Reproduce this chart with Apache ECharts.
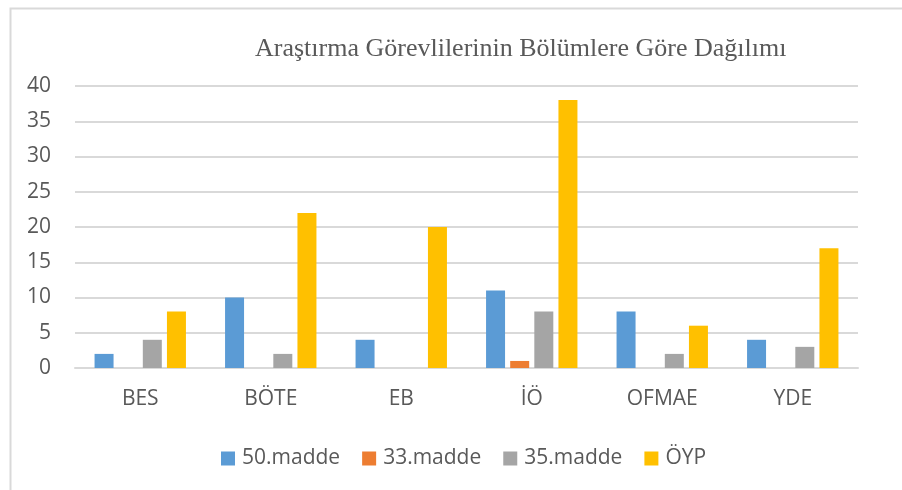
<!DOCTYPE html>
<html>
<head>
<meta charset="utf-8">
<script src="https://cdn.jsdelivr.net/npm/echarts@6/dist/echarts.min.js"></script>
<style>
  html, body { margin: 0; padding: 0; background: #fff; }
  #chart { width: 902px; height: 490px; }
</style>
</head>
<body>
<div id="chart"></div>
<script>
const categories = ['BES', 'BÖTE', 'EB', 'İÖ', 'OFMAE', 'YDE']
const madde50 = [2, 10, 4, 11, 8, 4]
const madde33 = [0, 0, 0, 1, 0, 0]
const madde35 = [4, 2, 0, 8, 2, 3]
const oyp = [8, 22, 20, 38, 6, 17]

const seriesNames = ['50.madde', '33.madde', '35.madde', 'ÖYP']
const colors = ['#5B9BD5', '#ED7D31', '#A5A5A5', '#FFC000']
const textColor = '#595959'
const font = '"Open Sans", "Noto Sans", sans-serif'

const barSeries = (name, data) => ({
  name,
  type: 'bar',
  data,
  barWidth: 19,
  barGap: '27%'
})

const myChart = echarts.init(document.getElementById('chart'))
myChart.setOption({
  animation: false,
  color: colors,
  title: {
    text: 'Araştırma Görevlilerinin Bölümlere Göre Dağılımı',
    left: 250,
    top: 31,
    textStyle: {
      fontFamily: '"Liberation Serif", "DejaVu Serif", serif',
      fontWeight: 'normal',
      fontSize: 26,
      color: textColor
    }
  },
  graphic: [{
    type: 'rect',
    shape: { x: 10.5, y: 8.5, width: 900, height: 490 },
    style: { fill: 'none', stroke: '#d9d9d9', lineWidth: 2 },
    silent: true
  }],
  legend: {
    data: seriesNames,
    top: 443,
    left: 216,
    itemWidth: 14,
    itemHeight: 14,
    itemGap: 22,
    icon: 'rect',
    textStyle: { fontFamily: font, fontSize: 21, color: textColor, padding: [0, 0, 0, 2] }
  },
  grid: { left: 75, right: 44, top: 86, bottom: 122, containLabel: false },
  xAxis: {
    type: 'category',
    data: categories,
    axisLine: { lineStyle: { color: '#d9d9d9', width: 2 } },
    axisTick: { show: false },
    axisLabel: { fontFamily: font, fontSize: 21, color: textColor, margin: 21 }
  },
  yAxis: {
    type: 'value',
    min: 0,
    max: 40,
    interval: 5,
    axisLine: { show: false },
    axisTick: { show: false },
    splitLine: { lineStyle: { color: '#d9d9d9', width: 2 } },
    axisLabel: { fontFamily: font, fontSize: 21, color: textColor, margin: 24 }
  },
  series: [
    barSeries(seriesNames[0], madde50),
    barSeries(seriesNames[1], madde33),
    barSeries(seriesNames[2], madde35),
    barSeries(seriesNames[3], oyp)
  ]
})
</script>
</body>
</html>
